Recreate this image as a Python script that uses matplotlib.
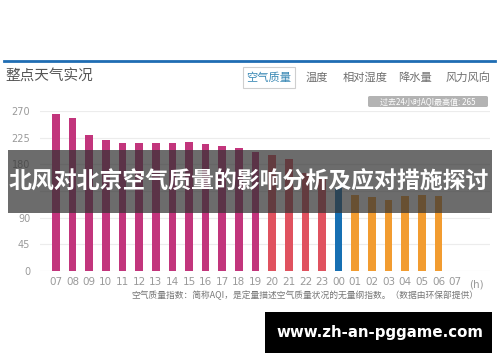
import matplotlib
matplotlib.use("Agg")
import matplotlib.pyplot as plt
from matplotlib.patches import Rectangle, FancyBboxPatch

plt.rcParams['font.family'] = ['Noto Sans CJK SC', 'DejaVu Sans']

# ---- data ----
hours = ['07', '08', '09', '10', '11', '12', '13', '14', '15', '16', '17', '18',
         '19', '20', '21', '22', '23', '00', '01', '02', '03', '04', '05', '06', '07']
aqi = [265, 258, 230, 221, 216, 216, 216, 216, 218, 214, 211, 207,
       200, 196, 189, 166, 157, 142, 128, 125, 120, 126, 128, 126]
bar_groups = ['m'] * 13 + ['r'] * 4 + ['b'] + ['o'] * 6
group_colors = {'m': '#c2357c', 'r': '#e0525f', 'b': '#1770b3', 'o': '#f29c30'}
yticks = [0, 45, 90, 135, 180, 225, 270]
ytick_labels = ['0', '45', '90', '', '180', '225', '270']
tabs = ['空气质量', '温度', '相对湿度', '降水量', '风力风向']
title = '整点天气实况'
badge = '过去24小时AQI最高值: 265'
note = '空气质量指数：简称AQI，是定量描述空气质量状况的无量纲指数。（数据由环保部提供）'
banner = '北风对北京空气质量的影响分析及应对措施探讨'
site = 'www.zh-an-pggame.com'

W, H = 500, 362
fig = plt.figure(figsize=(W / 100, H / 100), dpi=100)
fig.patch.set_facecolor('white')

def fx(px):
    return px / W

def fy(py):
    return 1 - py / H

# main axes
ax = fig.add_axes([fx(40), fy(271), fx(450), (271 - 111) / H])
ax.set_facecolor('none')
xs = list(range(len(aqi)))
ax.bar(xs, aqi, width=0.46, color=[group_colors[g] for g in bar_groups], zorder=2)
ax.set_xlim(-0.96, 26.1)
ax.set_ylim(0, 270)
ax.set_xticks(range(len(hours)))
ax.set_xticklabels(hours, color='#9a9a9a', fontsize=7.5, family=['DejaVu Sans'])
ax.set_yticks(yticks)
ax.set_yticklabels(ytick_labels, color='#9a9a9a', fontsize=7, family=['DejaVu Sans'])
ax.tick_params(length=0, pad=7)
ax.tick_params(axis='x', pad=4)
for s in ax.spines.values():
    s.set_visible(False)
ax.grid(axis='y', color='#ececec', linewidth=0.8, zorder=0)
ax.text(25.3, -0.055, '(h)', transform=ax.get_xaxis_transform(), ha='center', va='top',
        color='#9a9a9a', fontsize=7.5, family=['DejaVu Sans'])

# top decorations
fig.add_artist(plt.Line2D([fx(4), fx(495)], [fy(60.5), fy(60.5)], color='#1f6db3', linewidth=2))
fig.text(fx(5), fy(77), title, fontsize=10.5, color='#555555', va='center', ha='left')

tab_x = [269, 317, 365, 415, 468]
fig.add_artist(Rectangle((fx(243), fy(88)), fx(52), (88 - 67) / H, facecolor='white',
                         edgecolor='#cfcfcf', linewidth=0.8))
for i, (t, x) in enumerate(zip(tabs, tab_x)):
    fig.text(fx(x), fy(77.5), t, fontsize=8.1, ha='center', va='center',
             color='#3a89b5' if i == 0 else '#707070')

fig.add_artist(FancyBboxPatch((fx(368), fy(107)), fx(120), 11 / H,
                              boxstyle='round,pad=0,rounding_size=0.004',
                              facecolor='#b3b3b3', edgecolor='none'))
fig.text(fx(428), fy(101.5), badge, fontsize=5.8, ha='center', va='center', color='white')

fig.text(fx(478), fy(295), note, fontsize=6.3, ha='right', va='center', color='#777777')

# banner overlay
fig.add_artist(Rectangle((fx(8), fy(213)), fx(484), 63 / H, facecolor='#333333',
                         alpha=0.72, edgecolor='none', zorder=10))
fig.text(fx(249), fy(182), banner, fontsize=16.5, fontweight='bold', color='white',
         ha='center', va='center', zorder=11)

# site box
fig.add_artist(Rectangle((fx(265), fy(353)), fx(227), 41 / H, facecolor='black',
                         edgecolor='none', zorder=10))
fig.text(fx(380), fy(333), site, fontsize=10.8, fontweight='bold', color='white',
         ha='center', va='center', zorder=11, family=['DejaVu Sans'])

fig.savefig('out.png', dpi=100)
